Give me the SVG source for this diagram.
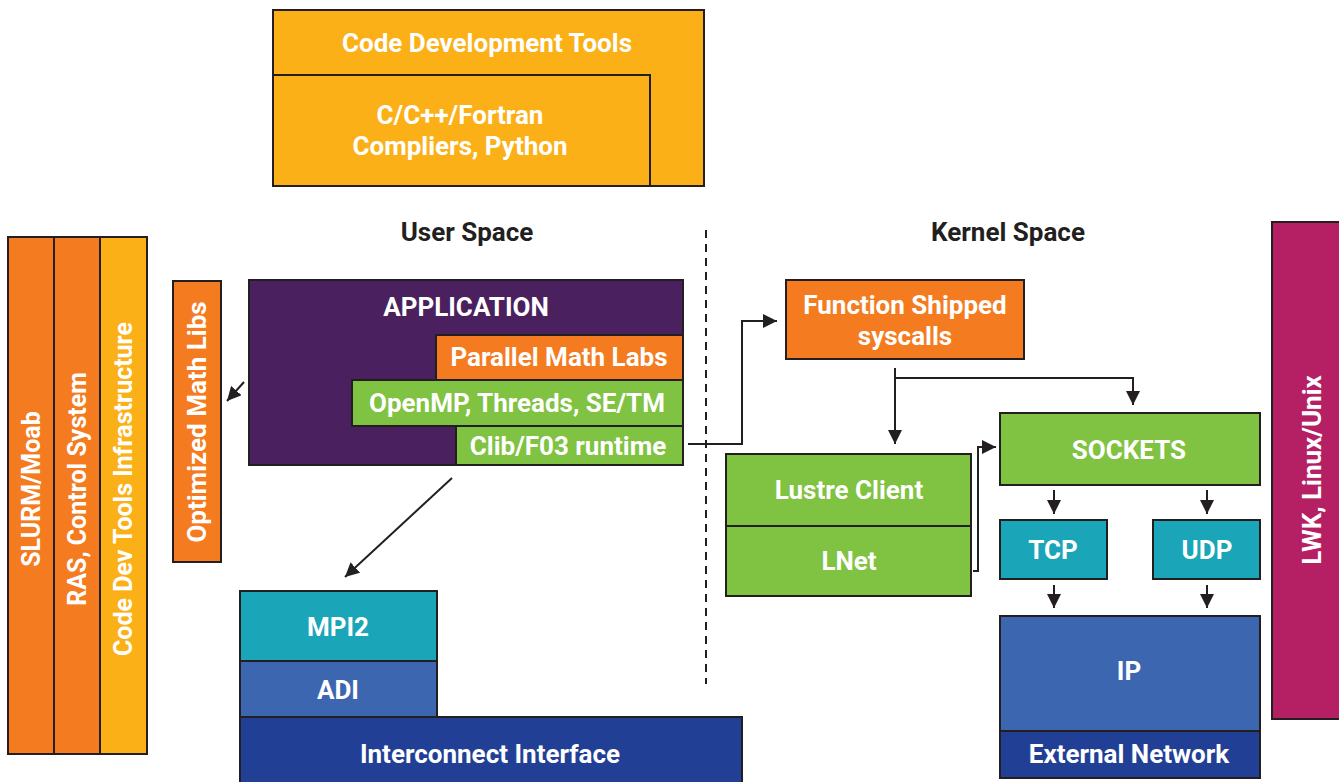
<svg xmlns="http://www.w3.org/2000/svg" width="1339" height="782" viewBox="0 0 1339 782">
<defs>
<marker id="ah" viewBox="0 0 10 10" refX="10" refY="5" markerWidth="14" markerHeight="14" markerUnits="userSpaceOnUse" orient="auto">
<path d="M0,0 L10,5 L0,10 z" fill="#231F20"/>
</marker>
<style>
.b{stroke:#231F20;stroke-width:2}
.t{font-family:Roboto,"Liberation Sans",sans-serif;font-weight:700;font-size:26px;fill:#fff;text-anchor:middle}
.s{font-size:25px}
.h{font-family:Roboto,"Liberation Sans",sans-serif;font-weight:700;font-size:26px;fill:#231F20;text-anchor:middle}
.c{fill:none;stroke:#231F20;stroke-width:2}
.yel{fill:#FBB017}.org{fill:#F47B20}.pur{fill:#4A205E}.grn{fill:#80C241}.tea{fill:#1BA5B8}.blu{fill:#3D66B0}.dbl{fill:#213F94}.mag{fill:#B51F63}
</style>
</defs>
<rect width="1339" height="782" fill="#fff"/>
<g id="code-dev-tools">
<rect class="b yel" x="273" y="10" width="431" height="176"/>
<text class="t" x="487" y="52">Code Development Tools</text>
</g>
<g id="compilers">
<rect class="b yel" x="273" y="75" width="377" height="111"/>
<text class="t" x="460" y="124">C/C++/Fortran</text>
<text class="t" x="460" y="155">Compliers, Python</text>
</g>
<text class="h" x="467" y="241">User Space</text>
<text class="h" x="1008" y="241">Kernel Space</text>
<line x1="706" y1="230" x2="706" y2="684" stroke="#231F20" stroke-width="2" stroke-dasharray="8,6"/>
<g id="slurm">
<rect class="b org" x="8" y="237" width="46" height="517"/>
<text class="t s" transform="translate(40,489) rotate(-90)">SLURM/Moab</text>
</g>
<g id="ras">
<rect class="b org" x="54" y="237" width="46" height="517"/>
<text class="t s" transform="translate(86,489) rotate(-90)">RAS, Control System</text>
</g>
<g id="code-dev-infra">
<rect class="b yel" x="100" y="237" width="47" height="517"/>
<text class="t s" transform="translate(132,489) rotate(-90)">Code Dev Tools Infrastructure</text>
</g>
<g id="opt-math">
<rect class="b org" x="173" y="281" width="48" height="281"/>
<text class="t" transform="translate(206,422) rotate(-90)">Optimized Math Libs</text>
</g>
<g id="application">
<rect class="b pur" x="249" y="280" width="434" height="185"/>
<text class="t" x="466" y="316">APPLICATION</text>
</g>
<g id="parallel-math">
<rect class="b org" x="436" y="335" width="247" height="45"/>
<text class="t" x="559" y="366">Parallel Math Labs</text>
</g>
<g id="openmp">
<rect class="b grn" x="352" y="380" width="331" height="46"/>
<text class="t" x="517" y="412">OpenMP, Threads, SE/TM</text>
</g>
<g id="clib">
<rect class="b grn" x="456" y="426" width="227" height="39"/>
<text class="t" x="568" y="455">Clib/F03 runtime</text>
</g>
<g id="function-shipped">
<rect class="b org" x="786" y="280" width="238" height="79"/>
<text class="t" x="905" y="314">Function Shipped</text>
<text class="t" x="905" y="345">syscalls</text>
</g>
<g id="lustre">
<rect class="b grn" x="726" y="454" width="245" height="72"/>
<text class="t" x="849" y="499">Lustre Client</text>
</g>
<g id="lnet">
<rect class="b grn" x="726" y="526" width="245" height="70"/>
<text class="t" x="849" y="570">LNet</text>
</g>
<g id="sockets">
<rect class="b grn" x="1000" y="413" width="260" height="72"/>
<text class="t" x="1129" y="459">SOCKETS</text>
</g>
<g id="tcp">
<rect class="b tea" x="1000" y="520" width="107" height="59"/>
<text class="t" x="1053" y="559">TCP</text>
</g>
<g id="udp">
<rect class="b tea" x="1153" y="520" width="107" height="59"/>
<text class="t" x="1207" y="559">UDP</text>
</g>
<g id="ip">
<rect class="b blu" x="1000" y="616" width="260" height="115"/>
<text class="t" x="1129" y="680">IP</text>
</g>
<g id="external-network">
<rect class="b dbl" x="1000" y="731" width="260" height="47"/>
<text class="t" x="1129" y="763">External Network</text>
</g>
<g id="lwk">
<rect class="b mag" x="1272" y="222" width="70" height="497"/>
<text class="t" transform="translate(1321,470) rotate(-90)">LWK, Linux/Unix</text>
</g>
<g id="mpi2">
<rect class="b tea" x="240" y="591" width="197" height="70"/>
<text class="t" x="338" y="636">MPI2</text>
</g>
<g id="adi">
<rect class="b blu" x="240" y="661" width="197" height="56"/>
<text class="t" x="338" y="699">ADI</text>
</g>
<g id="interconnect">
<rect class="b dbl" x="240" y="717" width="502" height="70"/>
<text class="t" x="490" y="763">Interconnect Interface</text>
</g>
<g id="connectors">
<path class="c" d="M244,382 L227,401" marker-end="url(#ah)"/>
<path class="c" d="M452,478 L345,577" marker-end="url(#ah)"/>
<path class="c" d="M688,444 H742 V321 H777" marker-end="url(#ah)"/>
<path class="c" d="M895,368 V444" marker-end="url(#ah)"/>
<path class="c" d="M895,378 H1133 V405" marker-end="url(#ah)"/>
<path class="c" d="M973,571 H978 V447 H996" marker-end="url(#ah)"/>
<path class="c" d="M1054,490 V514" marker-end="url(#ah)"/>
<path class="c" d="M1207,490 V514" marker-end="url(#ah)"/>
<path class="c" d="M1054,585 V608" marker-end="url(#ah)"/>
<path class="c" d="M1207,585 V608" marker-end="url(#ah)"/>
</g>
</svg>
